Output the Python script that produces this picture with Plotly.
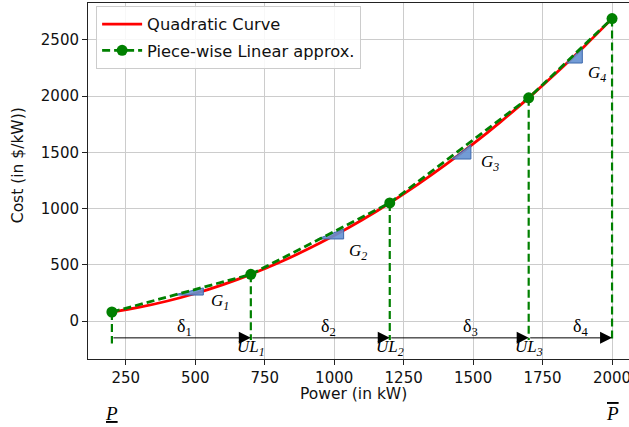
import plotly.graph_objects as go

# ---- data ----
curve_p = [200, 300, 400, 500, 600, 700, 800, 900, 1000, 1100, 1200, 1300,
           1400, 1500, 1600, 1700, 1800, 1900, 2000]
curve_cost = [80, 123, 178, 245, 324, 415, 518, 633, 760, 899, 1050, 1213,
              1388, 1575, 1774, 1985, 2208, 2443, 2690]

break_p = [200, 700, 1200, 1700, 2000]
break_cost = [80, 415, 1050, 1985, 2690]
vline_bottom = [-200, -170, -170, -170, -170]

arrow_level = -150
delta_labels = ["δ<sub>1</sub>", "δ<sub>2</sub>", "δ<sub>3</sub>", "δ<sub>4</sub>"]
delta_x = [463, 980, 1489, 1885]
delta_y = [-60, -60, -60, -60]

ul_labels = ["UL<sub>1</sub>", "UL<sub>2</sub>", "UL<sub>3</sub>"]
ul_y = -240

tri_x0 = [422, 941, 1424, 1836]
tri_x1 = [529, 1034, 1492, 1893]
tri_y0 = [231, 730, 1441, 2295]
tri_y1 = [294, 818, 1566, 2429]

g_labels = ["G<sub>1</sub>", "G<sub>2</sub>", "G<sub>3</sub>", "G<sub>4</sub>"]
g_x = [589, 1086, 1561, 1946]
g_y = [169, 614, 1406, 2197]

x_ticks = [250, 500, 750, 1000, 1250, 1500, 1750, 2000]
y_ticks = [0, 500, 1000, 1500, 2000, 2500]

GREEN = "#008000"
RED = "#ff0000"
SERIF = "Liberation Serif"
SANS = "DejaVu Sans"

fig = go.Figure()

# vertical dashed lines
vx, vy = [], []
for p, c, b in zip(break_p, break_cost, vline_bottom):
    vx += [p, p, None]
    vy += [c, b, None]
fig.add_trace(go.Scatter(x=vx, y=vy, mode="lines",
                         line=dict(color=GREEN, width=2.2, dash="8px,4px"),
                         showlegend=False, hoverinfo="skip"))

# quadratic curve
fig.add_trace(go.Scatter(x=curve_p, y=curve_cost, mode="lines",
                         line=dict(color=RED, width=2.8, shape="spline"),
                         name="Quadratic Curve", legendgroup="a"))

# gradient triangles
for x0, x1, y0, y1 in zip(tri_x0, tri_x1, tri_y0, tri_y1):
    fig.add_trace(go.Scatter(x=[x0, x1, x1, x0], y=[y0, y0, y1, y0],
                             mode="lines", fill="toself",
                             fillcolor="rgba(100,145,210,0.9)",
                             line=dict(color="#3d68ad", width=1),
                             showlegend=False, hoverinfo="skip"))

# piece-wise linear
fig.add_trace(go.Scatter(x=break_p, y=break_cost, mode="lines+markers",
                         line=dict(color=GREEN, width=2.8, dash="8px,4px"),
                         marker=dict(color=GREEN, size=11),
                         name="Piece-wise Linear approx.", legendgroup="b"))

annotations = []
# arrows
for a, b in zip(break_p[:-1], break_p[1:]):
    annotations.append(dict(x=b, y=arrow_level, ax=a, ay=arrow_level,
                            xref="x", yref="y", axref="x", ayref="y",
                            text="", showarrow=True, arrowhead=2,
                            arrowsize=2.4, arrowwidth=1, arrowcolor="black",
                            standoff=0, startstandoff=0))
for t, x, y in zip(delta_labels, delta_x, delta_y):
    annotations.append(dict(x=x, y=y, xref="x", yref="y", text=t,
                            showarrow=False,
                            font=dict(family=SERIF, size=18, color="black")))
for t, x in zip(ul_labels, break_p[1:4]):
    annotations.append(dict(x=x, y=ul_y, xref="x", yref="y", text="<i>" + t + "</i>",
                            showarrow=False,
                            font=dict(family=SERIF, size=17, color="black")))
for t, x, y in zip(g_labels, g_x, g_y):
    annotations.append(dict(x=x, y=y, xref="x", yref="y", text="<i>" + t + "</i>",
                            showarrow=False,
                            font=dict(family=SERIF, size=17, color="black")))

annotations.append(dict(x=break_p[0], y=-0.152, xref="x", yref="paper",
                        xanchor="center", yanchor="middle",
                        text="<u><i>P</i></u>", showarrow=False,
                        font=dict(family=SERIF, size=19, color="black")))
annotations.append(dict(x=break_p[-1], y=-0.152, xref="x", yref="paper",
                        xanchor="center", yanchor="middle",
                        text='<span style="text-decoration:overline"><i>P</i></span>',
                        showarrow=False,
                        font=dict(family=SERIF, size=19, color="black")))

annotations.append(dict(x=0.49, y=-0.097, xref="paper", yref="paper",
                        xanchor="center", yanchor="middle",
                        text="Power (in kW)", showarrow=False,
                        font=dict(family=SANS, size=15.5, color="#111")))
annotations.append(dict(x=-0.129, y=0.545, xref="paper", yref="paper",
                        xanchor="center", yanchor="middle",
                        text="Cost (in $/kW))", showarrow=False, textangle=-90,
                        font=dict(family=SANS, size=15.5, color="#111")))

fig.update_layout(
    width=629, height=427,
    margin=dict(l=88, r=0, t=3, b=68, autoexpand=False),
    paper_bgcolor="white", plot_bgcolor="white",
    annotations=annotations,
    legend=dict(x=0.015, y=0.9916, xanchor="left", yanchor="top",
                bgcolor="rgba(255,255,255,0.85)", bordercolor="#cccccc",
                borderwidth=1, itemwidth=40, tracegroupgap=2,
                font=dict(family=SANS, size=16.3, color="#111")),
    xaxis=dict(range=[114, 2061], tickvals=x_ticks, showgrid=True,
               gridcolor="#cccccc", gridwidth=1, zeroline=False, automargin=False,
               showline=True, linecolor="#222", linewidth=1, mirror=True,
               ticks="outside", ticklen=5, tickcolor="#222",
               ticklabeloverflow="allow",
               tickfont=dict(family=SANS, size=15, color="#111")),
    yaxis=dict(range=[-338, 2829], tickvals=y_ticks, showgrid=True,
               gridcolor="#cccccc", gridwidth=1, zeroline=False, automargin=False,
               showline=True, linecolor="#222", linewidth=1, mirror=True,
               ticks="outside", ticklen=5, tickcolor="#222",
               tickfont=dict(family=SANS, size=15, color="#111")),
)

fig.write_html("out.html", config={"displayModeBar": False},
               post_script="document.body.style.margin='0px';")
